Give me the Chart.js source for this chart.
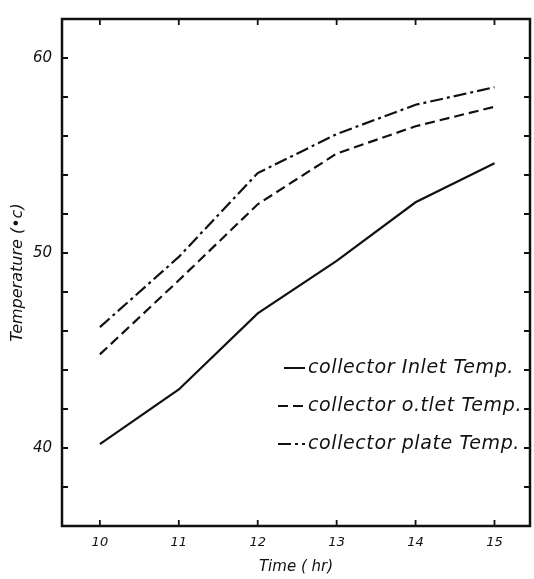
<!DOCTYPE html>
<html>
<head>
<meta charset="utf-8">
<script src="https://cdn.jsdelivr.net/npm/chart.js@4/dist/chart.umd.min.js"></script>
<style>
  html, body { margin: 0; padding: 0; background: #fff; }
  #wrap { width: 534px; height: 579px; }
</style>
</head>
<body>
<div id="wrap"><canvas id="chart" width="534" height="579"></canvas></div>
<script>
// values (temperature in °C vs time in hours)
const hours = [10, 11, 12, 13, 14, 15];
const inletTemp = [40.2, 43.0, 46.9, 49.6, 52.6, 54.6];
const outletTemp = [44.8, 48.6, 52.5, 55.1, 56.5, 57.5];
const plateTemp = [46.2, 49.8, 54.1, 56.1, 57.6, 58.5];

const yTicks = [36, 38, 40, 42, 44, 46, 48, 50, 52, 54, 56, 58, 60, 62];
const yLabelled = [40, 50, 60];

const seriesNames = ['collector Inlet Temp.', 'collector o.tlet Temp.', 'collector plate Temp.'];
const dashes = [[], [10, 5], [13, 4, 3, 4]];

const pts = arr => hours.map((h, i) => ({ x: h, y: arr[i] }));

// frame with inward ticks on all four sides, plus the hand-placed legend
const framePlugin = {
    id: 'frame',
    afterDraw(chart) {
        const { ctx, chartArea: a, scales } = chart;
        ctx.save();
        ctx.strokeStyle = '#111';
        ctx.lineWidth = 2.5;
        ctx.strokeRect(a.left, a.top, a.right - a.left, a.bottom - a.top);
        ctx.lineWidth = 1.8;
        ctx.beginPath();
        hours.forEach(h => {
            const px = scales.x.getPixelForValue(h);
            ctx.moveTo(px, a.bottom); ctx.lineTo(px, a.bottom - 6);
            ctx.moveTo(px, a.top); ctx.lineTo(px, a.top + 6);
        });
        yTicks.forEach(v => {
            const py = scales.y.getPixelForValue(v);
            ctx.moveTo(a.left, py); ctx.lineTo(a.left + 6, py);
            ctx.moveTo(a.right, py); ctx.lineTo(a.right - 6, py);
        });
        ctx.stroke();

        // legend
        const legX = 284, legEnd = 305, textX = 308;
        const legY = [368, 406, 444];
        ctx.font = 'italic 19px "DejaVu Sans"';
        ctx.letterSpacing = '0.6px';
        ctx.fillStyle = '#111';
        ctx.textBaseline = 'middle';
        seriesNames.forEach((name, i) => {
            ctx.lineWidth = 2;
            ctx.setLineDash(dashes[i]);
            ctx.beginPath();
            ctx.moveTo(legX - (i ? 6 : 0), legY[i]);
            ctx.lineTo(legEnd, legY[i]);
            ctx.stroke();
            ctx.setLineDash([]);
            ctx.fillText(name, textX, legY[i]);
        });
        ctx.restore();
    }
};

new Chart(document.getElementById('chart'), {
    type: 'line',
    data: {
        datasets: [
            { label: seriesNames[0], data: pts(inletTemp), borderDash: dashes[0] },
            { label: seriesNames[1], data: pts(outletTemp), borderDash: dashes[1] },
            { label: seriesNames[2], data: pts(plateTemp), borderDash: dashes[2] }
        ]
    },
    options: {
        responsive: false,
        animation: false,
        layout: { padding: { top: 12, right: 4, left: 0, bottom: 0 } },
        elements: {
            line: { borderColor: '#111', borderWidth: 2.2, tension: 0 },
            point: { radius: 0 }
        },
        plugins: {
            legend: { display: false },
            tooltip: { enabled: false }
        },
        scales: {
            x: {
                type: 'linear',
                min: 9.52,
                max: 15.45,
                afterBuildTicks: s => { s.ticks = hours.map(v => ({ value: v })); },
                afterFit: s => { s.height = 53; },
                grid: { display: false, drawTicks: false },
                border: { display: false },
                ticks: {
                    padding: 9,
                    color: '#111',
                    font: { family: 'DejaVu Sans', size: 13, style: 'italic' },
                    maxRotation: 0
                },
                title: {
                    display: true,
                    text: 'Time ( hr)',
                    color: '#111',
                    font: { family: 'DejaVu Sans', size: 15, style: 'italic' },
                    padding: { top: 0, bottom: 3 }
                }
            },
            y: {
                min: 36,
                max: 62,
                afterBuildTicks: s => { s.ticks = yTicks.map(v => ({ value: v })); },
                afterFit: s => { s.width = 62; },
                grid: { display: false, drawTicks: false },
                border: { display: false },
                ticks: {
                    padding: 10,
                    color: '#111',
                    font: { family: 'DejaVu Sans', size: 15, style: 'italic' },
                    callback: v => yLabelled.includes(v) ? String(v) : ''
                },
                title: {
                    display: true,
                    text: 'Temperature (•c)',
                    color: '#111',
                    font: { family: 'DejaVu Sans', size: 16, style: 'italic' },
                    padding: { top: 8, bottom: 0 }
                }
            }
        }
    },
    plugins: [framePlugin]
});
</script>
</body>
</html>
